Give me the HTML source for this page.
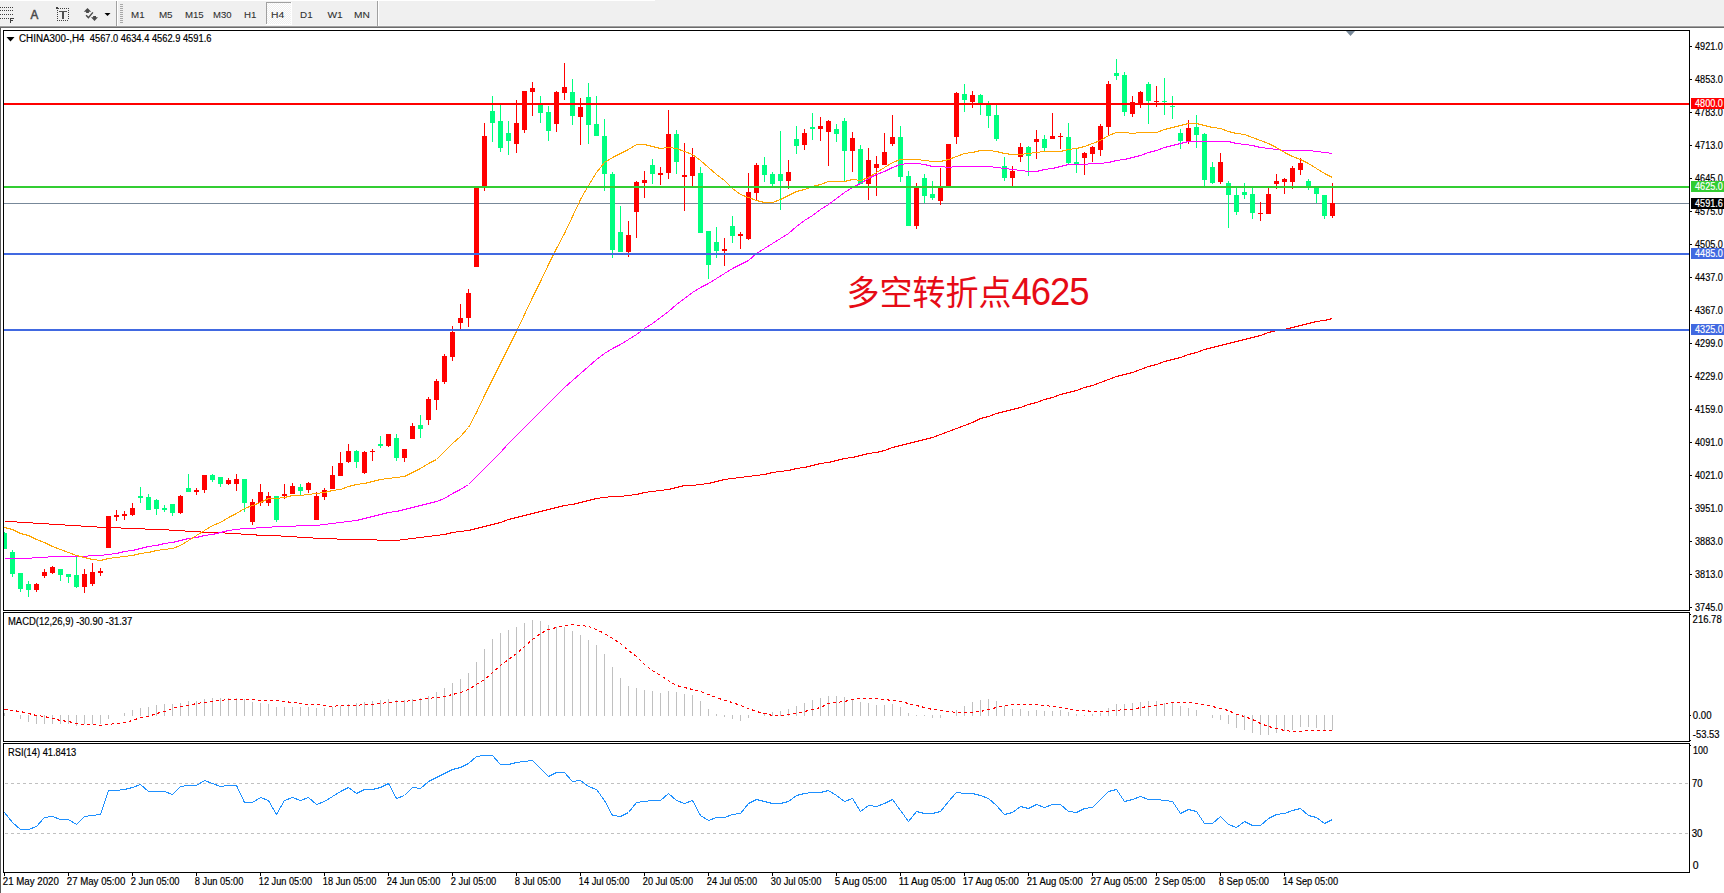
<!DOCTYPE html><html><head><meta charset="utf-8"><title>CHINA300-,H4</title>
<style>html,body{margin:0;padding:0;background:#fff;}body{width:1724px;height:893px;overflow:hidden;}svg{display:block;font-family:'Liberation Sans', Arial, sans-serif;}.cjk{font-family:"Liberation Sans","Noto Sans CJK SC","Microsoft YaHei",sans-serif;}</style></head><body>
<svg width="1724" height="893" viewBox="0 0 1724 893" shape-rendering="crispEdges">
<rect x="0" y="0" width="1724" height="893" fill="#ffffff"/>
<rect x="0" y="0" width="1724" height="26" fill="#f0f0f0"/>
<rect x="0" y="0" width="655" height="1" fill="#ffffff"/>
<rect x="0" y="25" width="1724" height="1" fill="#f4f4f4"/>
<rect x="0" y="26" width="1724" height="1" fill="#a0a0a0"/>
<rect x="0" y="27" width="1724" height="1" fill="#6b6b6b"/>
<rect x="0" y="28" width="1" height="865" fill="#5c5c5c"/>
<rect x="0" y="7" width="1" height="1" fill="#404040"/>
<rect x="2" y="7" width="1" height="1" fill="#404040"/>
<rect x="4" y="7" width="1" height="1" fill="#404040"/>
<rect x="6" y="7" width="1" height="1" fill="#404040"/>
<rect x="8" y="7" width="1" height="1" fill="#404040"/>
<rect x="10" y="7" width="1" height="1" fill="#404040"/>
<rect x="12" y="7" width="1" height="1" fill="#404040"/>
<rect x="0" y="10" width="1" height="1" fill="#404040"/>
<rect x="2" y="10" width="1" height="1" fill="#404040"/>
<rect x="4" y="10" width="1" height="1" fill="#404040"/>
<rect x="6" y="10" width="1" height="1" fill="#404040"/>
<rect x="8" y="10" width="1" height="1" fill="#404040"/>
<rect x="10" y="10" width="1" height="1" fill="#404040"/>
<rect x="12" y="10" width="1" height="1" fill="#404040"/>
<rect x="0" y="14" width="1" height="1" fill="#404040"/>
<rect x="2" y="14" width="1" height="1" fill="#404040"/>
<rect x="4" y="14" width="1" height="1" fill="#404040"/>
<rect x="6" y="14" width="1" height="1" fill="#404040"/>
<rect x="8" y="14" width="1" height="1" fill="#404040"/>
<rect x="10" y="14" width="1" height="1" fill="#404040"/>
<rect x="12" y="14" width="1" height="1" fill="#404040"/>
<rect x="0" y="18" width="1" height="1" fill="#404040"/>
<rect x="2" y="18" width="1" height="1" fill="#404040"/>
<rect x="4" y="18" width="1" height="1" fill="#404040"/>
<rect x="6" y="18" width="1" height="1" fill="#404040"/>
<rect x="8" y="18" width="1" height="1" fill="#404040"/>
<rect x="10" y="18" width="1" height="5" fill="#404040"/>
<rect x="10" y="18" width="4" height="1" fill="#404040"/>
<rect x="10" y="20" width="3" height="1" fill="#404040"/>
<text x="30.6" y="19" fill="#4a4a4a" stroke="#4a4a4a" stroke-width="0.5" font-size="12.4" textLength="7.8" lengthAdjust="spacingAndGlyphs">A</text>
<rect x="60" y="8" width="1" height="1" fill="#404040"/>
<rect x="62" y="8" width="1" height="1" fill="#404040"/>
<rect x="64" y="8" width="1" height="1" fill="#404040"/>
<rect x="66" y="8" width="1" height="1" fill="#404040"/>
<rect x="68" y="8" width="1" height="1" fill="#404040"/>
<rect x="57" y="20" width="1" height="1" fill="#404040"/>
<rect x="59" y="20" width="1" height="1" fill="#404040"/>
<rect x="61" y="20" width="1" height="1" fill="#404040"/>
<rect x="63" y="20" width="1" height="1" fill="#404040"/>
<rect x="65" y="20" width="1" height="1" fill="#404040"/>
<rect x="67" y="20" width="1" height="1" fill="#404040"/>
<rect x="57" y="10" width="1" height="1" fill="#404040"/>
<rect x="57" y="12" width="1" height="1" fill="#404040"/>
<rect x="57" y="14" width="1" height="1" fill="#404040"/>
<rect x="57" y="16" width="1" height="1" fill="#404040"/>
<rect x="57" y="18" width="1" height="1" fill="#404040"/>
<rect x="57" y="20" width="1" height="1" fill="#404040"/>
<rect x="68" y="8" width="1" height="1" fill="#404040"/>
<rect x="68" y="10" width="1" height="1" fill="#404040"/>
<rect x="68" y="12" width="1" height="1" fill="#404040"/>
<rect x="68" y="14" width="1" height="1" fill="#404040"/>
<rect x="68" y="16" width="1" height="1" fill="#404040"/>
<rect x="68" y="18" width="1" height="1" fill="#404040"/>
<rect x="56" y="7" width="2" height="2" fill="#404040"/>
<rect x="58" y="8" width="1" height="1" fill="#404040"/>
<rect x="59" y="11" width="8" height="1" fill="#505050"/>
<rect x="62" y="11" width="2" height="8" fill="#505050"/>
<g shape-rendering="auto" fill="#4a4a4a"><polygon points="83.8,11.7 87.5,7.9 91.2,11.7 88.9,11.7 88.9,13.1 86.1,13.1 86.1,11.7"/><polygon points="93.1,16 96,16 96,17.3 98,17.3 94.5,21.1 91,17.3 93.1,17.3"/><polyline points="86.1,15.3 88.4,17.6 92.9,12.4" fill="none" stroke="#4a4a4a" stroke-width="1.4"/></g>
<polygon points="104.5,13 110.5,13 107.5,16" fill="#000" shape-rendering="auto"/>
<rect x="116" y="1" width="1" height="25" fill="#a0a0a0"/>
<rect x="117" y="1" width="1" height="25" fill="#ffffff"/>
<rect x="120" y="4" width="3" height="1" fill="#a8a8a8"/>
<rect x="120" y="6" width="3" height="1" fill="#a8a8a8"/>
<rect x="120" y="8" width="3" height="1" fill="#a8a8a8"/>
<rect x="120" y="10" width="3" height="1" fill="#a8a8a8"/>
<rect x="120" y="12" width="3" height="1" fill="#a8a8a8"/>
<rect x="120" y="14" width="3" height="1" fill="#a8a8a8"/>
<rect x="120" y="16" width="3" height="1" fill="#a8a8a8"/>
<rect x="120" y="18" width="3" height="1" fill="#a8a8a8"/>
<rect x="120" y="20" width="3" height="1" fill="#a8a8a8"/>
<rect x="120" y="22" width="3" height="1" fill="#a8a8a8"/>
<defs><pattern id="chk" x="0" y="0" width="2" height="2" patternUnits="userSpaceOnUse"><rect width="2" height="2" fill="#f0f0f0"/><rect width="1" height="1" fill="#ffffff"/><rect x="1" y="1" width="1" height="1" fill="#ffffff"/></pattern></defs>
<rect x="266" y="2" width="25" height="22" fill="url(#chk)"/>
<rect x="266" y="2" width="25" height="1" fill="#a0a0a0"/>
<rect x="266" y="2" width="1" height="22" fill="#a0a0a0"/>
<rect x="291" y="2" width="1" height="23" fill="#ffffff"/>
<rect x="266" y="24" width="26" height="1" fill="#ffffff"/>
<text x="131.1" y="18" fill="#2e2e2e" font-size="9.9" stroke="#2e2e2e" stroke-width="0.08" textLength="13.5" lengthAdjust="spacingAndGlyphs">M1</text>
<text x="158.9" y="18" fill="#2e2e2e" font-size="9.9" stroke="#2e2e2e" stroke-width="0.08" textLength="13.7" lengthAdjust="spacingAndGlyphs">M5</text>
<text x="184.9" y="18" fill="#2e2e2e" font-size="9.9" stroke="#2e2e2e" stroke-width="0.08" textLength="18.8" lengthAdjust="spacingAndGlyphs">M15</text>
<text x="213.0" y="18" fill="#2e2e2e" font-size="9.9" stroke="#2e2e2e" stroke-width="0.08" textLength="18.5" lengthAdjust="spacingAndGlyphs">M30</text>
<text x="244.0" y="18" fill="#2e2e2e" font-size="9.9" stroke="#2e2e2e" stroke-width="0.08" textLength="12.4" lengthAdjust="spacingAndGlyphs">H1</text>
<text x="271.0" y="18" fill="#2e2e2e" font-size="9.9" stroke="#2e2e2e" stroke-width="0.08" textLength="13.2" lengthAdjust="spacingAndGlyphs">H4</text>
<text x="300.1" y="18" fill="#2e2e2e" font-size="9.9" stroke="#2e2e2e" stroke-width="0.08" textLength="12.5" lengthAdjust="spacingAndGlyphs">D1</text>
<text x="327.4" y="18" fill="#2e2e2e" font-size="9.9" stroke="#2e2e2e" stroke-width="0.08" textLength="15.3" lengthAdjust="spacingAndGlyphs">W1</text>
<text x="354.1" y="18" fill="#2e2e2e" font-size="9.9" stroke="#2e2e2e" stroke-width="0.08" textLength="15.8" lengthAdjust="spacingAndGlyphs">MN</text>
<rect x="377" y="1" width="1" height="25" fill="#a0a0a0"/>
<rect x="378" y="1" width="1" height="25" fill="#ffffff"/>
<rect x="3" y="30" width="1687" height="1" fill="#000"/>
<rect x="3" y="610" width="1687" height="1" fill="#000"/>
<rect x="3" y="30" width="1" height="581" fill="#000"/>
<rect x="1689" y="30" width="1" height="581" fill="#000"/>
<rect x="3" y="612" width="1687" height="1" fill="#000"/>
<rect x="3" y="741" width="1687" height="1" fill="#000"/>
<rect x="3" y="612" width="1" height="130" fill="#000"/>
<rect x="1689" y="612" width="1" height="130" fill="#000"/>
<rect x="3" y="743" width="1687" height="1" fill="#000"/>
<rect x="3" y="872" width="1687" height="1" fill="#000"/>
<rect x="3" y="743" width="1" height="130" fill="#000"/>
<rect x="1689" y="743" width="1" height="130" fill="#000"/>
<defs><clipPath id="cm"><rect x="4" y="31" width="1685" height="579"/></clipPath><clipPath id="cmacd"><rect x="4" y="613" width="1685" height="128"/></clipPath><clipPath id="crsi"><rect x="4" y="744" width="1685" height="128"/></clipPath></defs>
<g clip-path="url(#cm)">
<rect x="4" y="203" width="1685" height="1" fill="#778899"/>
<rect x="4" y="532" width="1" height="17" fill="#00ff7f"/>
<rect x="2" y="533" width="5" height="16" fill="#00ff7f"/>
<rect x="12" y="550" width="1" height="27" fill="#00ff7f"/>
<rect x="10" y="552" width="5" height="22" fill="#00ff7f"/>
<rect x="20" y="573" width="1" height="19" fill="#00ff7f"/>
<rect x="18" y="573" width="5" height="16" fill="#00ff7f"/>
<rect x="28" y="581" width="1" height="16" fill="#00ff7f"/>
<rect x="26" y="584" width="5" height="6" fill="#00ff7f"/>
<rect x="36" y="583" width="1" height="9" fill="#ff0000"/>
<rect x="34" y="584" width="5" height="6" fill="#ff0000"/>
<rect x="44" y="569" width="1" height="9" fill="#ff0000"/>
<rect x="42" y="572" width="5" height="4" fill="#ff0000"/>
<rect x="52" y="566" width="1" height="8" fill="#ff0000"/>
<rect x="50" y="567" width="5" height="6" fill="#ff0000"/>
<rect x="60" y="569" width="1" height="12" fill="#00ff7f"/>
<rect x="58" y="569" width="5" height="6" fill="#00ff7f"/>
<rect x="68" y="574" width="1" height="9" fill="#00ff7f"/>
<rect x="66" y="574" width="5" height="3" fill="#00ff7f"/>
<rect x="76" y="556" width="1" height="32" fill="#00ff7f"/>
<rect x="74" y="575" width="5" height="12" fill="#00ff7f"/>
<rect x="84" y="569" width="1" height="24" fill="#ff0000"/>
<rect x="82" y="574" width="5" height="13" fill="#ff0000"/>
<rect x="92" y="563" width="1" height="23" fill="#ff0000"/>
<rect x="90" y="572" width="5" height="12" fill="#ff0000"/>
<rect x="100" y="568" width="1" height="8" fill="#ff0000"/>
<rect x="98" y="571" width="5" height="2" fill="#ff0000"/>
<rect x="108" y="516" width="1" height="32" fill="#ff0000"/>
<rect x="106" y="516" width="5" height="32" fill="#ff0000"/>
<rect x="116" y="510" width="1" height="11" fill="#ff0000"/>
<rect x="114" y="515" width="5" height="2" fill="#ff0000"/>
<rect x="124" y="511" width="1" height="9" fill="#ff0000"/>
<rect x="122" y="514" width="5" height="2" fill="#ff0000"/>
<rect x="132" y="503" width="1" height="13" fill="#ff0000"/>
<rect x="130" y="508" width="5" height="7" fill="#ff0000"/>
<rect x="140" y="487" width="1" height="16" fill="#00ff7f"/>
<rect x="138" y="496" width="5" height="2" fill="#00ff7f"/>
<rect x="148" y="494" width="1" height="16" fill="#00ff7f"/>
<rect x="146" y="497" width="5" height="13" fill="#00ff7f"/>
<rect x="156" y="499" width="1" height="16" fill="#00ff7f"/>
<rect x="154" y="500" width="5" height="9" fill="#00ff7f"/>
<rect x="164" y="505" width="1" height="7" fill="#00ff7f"/>
<rect x="162" y="508" width="5" height="2" fill="#00ff7f"/>
<rect x="172" y="504" width="1" height="12" fill="#00ff7f"/>
<rect x="170" y="504" width="5" height="9" fill="#00ff7f"/>
<rect x="180" y="495" width="1" height="19" fill="#ff0000"/>
<rect x="178" y="496" width="5" height="17" fill="#ff0000"/>
<rect x="188" y="474" width="1" height="18" fill="#00ff7f"/>
<rect x="186" y="488" width="5" height="4" fill="#00ff7f"/>
<rect x="196" y="488" width="1" height="7" fill="#ff0000"/>
<rect x="194" y="490" width="5" height="2" fill="#ff0000"/>
<rect x="204" y="475" width="1" height="18" fill="#ff0000"/>
<rect x="202" y="475" width="5" height="15" fill="#ff0000"/>
<rect x="212" y="474" width="1" height="8" fill="#00ff7f"/>
<rect x="210" y="475" width="5" height="5" fill="#00ff7f"/>
<rect x="220" y="477" width="1" height="10" fill="#00ff7f"/>
<rect x="218" y="477" width="5" height="7" fill="#00ff7f"/>
<rect x="228" y="478" width="1" height="7" fill="#ff0000"/>
<rect x="226" y="480" width="5" height="4" fill="#ff0000"/>
<rect x="236" y="474" width="1" height="17" fill="#ff0000"/>
<rect x="234" y="479" width="5" height="5" fill="#ff0000"/>
<rect x="244" y="479" width="1" height="33" fill="#00ff7f"/>
<rect x="242" y="479" width="5" height="24" fill="#00ff7f"/>
<rect x="252" y="499" width="1" height="26" fill="#ff0000"/>
<rect x="250" y="502" width="5" height="20" fill="#ff0000"/>
<rect x="260" y="484" width="1" height="22" fill="#ff0000"/>
<rect x="258" y="492" width="5" height="11" fill="#ff0000"/>
<rect x="268" y="492" width="1" height="14" fill="#ff0000"/>
<rect x="266" y="496" width="5" height="7" fill="#ff0000"/>
<rect x="276" y="496" width="1" height="26" fill="#00ff7f"/>
<rect x="274" y="496" width="5" height="24" fill="#00ff7f"/>
<rect x="284" y="484" width="1" height="15" fill="#ff0000"/>
<rect x="282" y="494" width="5" height="2" fill="#ff0000"/>
<rect x="292" y="483" width="1" height="11" fill="#ff0000"/>
<rect x="290" y="486" width="5" height="8" fill="#ff0000"/>
<rect x="300" y="484" width="1" height="11" fill="#00ff7f"/>
<rect x="298" y="487" width="5" height="4" fill="#00ff7f"/>
<rect x="308" y="482" width="1" height="11" fill="#ff0000"/>
<rect x="306" y="483" width="5" height="7" fill="#ff0000"/>
<rect x="316" y="492" width="1" height="28" fill="#ff0000"/>
<rect x="314" y="496" width="5" height="24" fill="#ff0000"/>
<rect x="324" y="488" width="1" height="12" fill="#ff0000"/>
<rect x="322" y="490" width="5" height="7" fill="#ff0000"/>
<rect x="332" y="466" width="1" height="23" fill="#ff0000"/>
<rect x="330" y="475" width="5" height="14" fill="#ff0000"/>
<rect x="340" y="452" width="1" height="24" fill="#ff0000"/>
<rect x="338" y="463" width="5" height="13" fill="#ff0000"/>
<rect x="348" y="444" width="1" height="19" fill="#ff0000"/>
<rect x="346" y="451" width="5" height="11" fill="#ff0000"/>
<rect x="356" y="450" width="1" height="18" fill="#00ff7f"/>
<rect x="354" y="451" width="5" height="11" fill="#00ff7f"/>
<rect x="364" y="451" width="1" height="23" fill="#ff0000"/>
<rect x="362" y="452" width="5" height="21" fill="#ff0000"/>
<rect x="372" y="449" width="1" height="12" fill="#ff0000"/>
<rect x="370" y="451" width="5" height="1" fill="#ff0000"/>
<rect x="380" y="436" width="1" height="12" fill="#00ff7f"/>
<rect x="378" y="444" width="5" height="2" fill="#00ff7f"/>
<rect x="388" y="434" width="1" height="13" fill="#ff0000"/>
<rect x="386" y="434" width="5" height="12" fill="#ff0000"/>
<rect x="396" y="434" width="1" height="27" fill="#00ff7f"/>
<rect x="394" y="438" width="5" height="20" fill="#00ff7f"/>
<rect x="404" y="449" width="1" height="13" fill="#ff0000"/>
<rect x="402" y="449" width="5" height="9" fill="#ff0000"/>
<rect x="412" y="423" width="1" height="16" fill="#ff0000"/>
<rect x="410" y="426" width="5" height="13" fill="#ff0000"/>
<rect x="420" y="415" width="1" height="23" fill="#00ff7f"/>
<rect x="418" y="425" width="5" height="4" fill="#00ff7f"/>
<rect x="428" y="397" width="1" height="28" fill="#ff0000"/>
<rect x="426" y="399" width="5" height="21" fill="#ff0000"/>
<rect x="436" y="379" width="1" height="31" fill="#ff0000"/>
<rect x="434" y="381" width="5" height="19" fill="#ff0000"/>
<rect x="444" y="354" width="1" height="30" fill="#ff0000"/>
<rect x="442" y="356" width="5" height="26" fill="#ff0000"/>
<rect x="452" y="326" width="1" height="35" fill="#ff0000"/>
<rect x="450" y="332" width="5" height="25" fill="#ff0000"/>
<rect x="460" y="304" width="1" height="25" fill="#ff0000"/>
<rect x="458" y="318" width="5" height="5" fill="#ff0000"/>
<rect x="468" y="289" width="1" height="38" fill="#ff0000"/>
<rect x="466" y="293" width="5" height="25" fill="#ff0000"/>
<rect x="476" y="187" width="1" height="80" fill="#ff0000"/>
<rect x="474" y="187" width="5" height="80" fill="#ff0000"/>
<rect x="484" y="123" width="1" height="68" fill="#ff0000"/>
<rect x="482" y="136" width="5" height="50" fill="#ff0000"/>
<rect x="492" y="96" width="1" height="46" fill="#00ff7f"/>
<rect x="490" y="111" width="5" height="12" fill="#00ff7f"/>
<rect x="500" y="105" width="1" height="47" fill="#00ff7f"/>
<rect x="498" y="121" width="5" height="27" fill="#00ff7f"/>
<rect x="508" y="121" width="1" height="34" fill="#00ff7f"/>
<rect x="506" y="133" width="5" height="8" fill="#00ff7f"/>
<rect x="516" y="100" width="1" height="53" fill="#ff0000"/>
<rect x="514" y="123" width="5" height="21" fill="#ff0000"/>
<rect x="524" y="91" width="1" height="42" fill="#ff0000"/>
<rect x="522" y="91" width="5" height="39" fill="#ff0000"/>
<rect x="532" y="82" width="1" height="34" fill="#ff0000"/>
<rect x="530" y="88" width="5" height="4" fill="#ff0000"/>
<rect x="540" y="96" width="1" height="27" fill="#00ff7f"/>
<rect x="538" y="105" width="5" height="8" fill="#00ff7f"/>
<rect x="548" y="106" width="1" height="35" fill="#00ff7f"/>
<rect x="546" y="112" width="5" height="19" fill="#00ff7f"/>
<rect x="556" y="91" width="1" height="41" fill="#ff0000"/>
<rect x="554" y="92" width="5" height="32" fill="#ff0000"/>
<rect x="564" y="63" width="1" height="37" fill="#ff0000"/>
<rect x="562" y="87" width="5" height="6" fill="#ff0000"/>
<rect x="572" y="79" width="1" height="46" fill="#00ff7f"/>
<rect x="570" y="92" width="5" height="24" fill="#00ff7f"/>
<rect x="580" y="98" width="1" height="47" fill="#ff0000"/>
<rect x="578" y="107" width="5" height="10" fill="#ff0000"/>
<rect x="588" y="83" width="1" height="61" fill="#00ff7f"/>
<rect x="586" y="97" width="5" height="28" fill="#00ff7f"/>
<rect x="596" y="96" width="1" height="40" fill="#00ff7f"/>
<rect x="594" y="124" width="5" height="12" fill="#00ff7f"/>
<rect x="604" y="119" width="1" height="72" fill="#00ff7f"/>
<rect x="602" y="136" width="5" height="38" fill="#00ff7f"/>
<rect x="612" y="172" width="1" height="86" fill="#00ff7f"/>
<rect x="610" y="174" width="5" height="76" fill="#00ff7f"/>
<rect x="620" y="206" width="1" height="46" fill="#00ff7f"/>
<rect x="618" y="232" width="5" height="20" fill="#00ff7f"/>
<rect x="628" y="221" width="1" height="36" fill="#ff0000"/>
<rect x="626" y="235" width="5" height="17" fill="#ff0000"/>
<rect x="636" y="181" width="1" height="57" fill="#ff0000"/>
<rect x="634" y="182" width="5" height="30" fill="#ff0000"/>
<rect x="644" y="171" width="1" height="27" fill="#ff0000"/>
<rect x="642" y="180" width="5" height="3" fill="#ff0000"/>
<rect x="652" y="159" width="1" height="25" fill="#00ff7f"/>
<rect x="650" y="165" width="5" height="9" fill="#00ff7f"/>
<rect x="660" y="167" width="1" height="18" fill="#ff0000"/>
<rect x="658" y="173" width="5" height="2" fill="#ff0000"/>
<rect x="668" y="110" width="1" height="69" fill="#ff0000"/>
<rect x="666" y="134" width="5" height="39" fill="#ff0000"/>
<rect x="676" y="130" width="1" height="44" fill="#00ff7f"/>
<rect x="674" y="134" width="5" height="28" fill="#00ff7f"/>
<rect x="684" y="143" width="1" height="68" fill="#ff0000"/>
<rect x="682" y="175" width="5" height="2" fill="#ff0000"/>
<rect x="692" y="148" width="1" height="38" fill="#ff0000"/>
<rect x="690" y="157" width="5" height="19" fill="#ff0000"/>
<rect x="700" y="167" width="1" height="66" fill="#00ff7f"/>
<rect x="698" y="173" width="5" height="60" fill="#00ff7f"/>
<rect x="708" y="231" width="1" height="48" fill="#00ff7f"/>
<rect x="706" y="231" width="5" height="34" fill="#00ff7f"/>
<rect x="716" y="227" width="1" height="31" fill="#00ff7f"/>
<rect x="714" y="242" width="5" height="9" fill="#00ff7f"/>
<rect x="724" y="238" width="1" height="28" fill="#ff0000"/>
<rect x="722" y="249" width="5" height="2" fill="#ff0000"/>
<rect x="732" y="216" width="1" height="27" fill="#00ff7f"/>
<rect x="730" y="226" width="5" height="10" fill="#00ff7f"/>
<rect x="740" y="232" width="1" height="17" fill="#ff0000"/>
<rect x="738" y="234" width="5" height="2" fill="#ff0000"/>
<rect x="748" y="173" width="1" height="67" fill="#ff0000"/>
<rect x="746" y="192" width="5" height="47" fill="#ff0000"/>
<rect x="756" y="163" width="1" height="37" fill="#ff0000"/>
<rect x="754" y="165" width="5" height="28" fill="#ff0000"/>
<rect x="764" y="157" width="1" height="25" fill="#00ff7f"/>
<rect x="762" y="165" width="5" height="10" fill="#00ff7f"/>
<rect x="772" y="172" width="1" height="14" fill="#00ff7f"/>
<rect x="770" y="174" width="5" height="10" fill="#00ff7f"/>
<rect x="780" y="131" width="1" height="79" fill="#00ff7f"/>
<rect x="778" y="174" width="5" height="7" fill="#00ff7f"/>
<rect x="788" y="160" width="1" height="29" fill="#ff0000"/>
<rect x="786" y="172" width="5" height="9" fill="#ff0000"/>
<rect x="796" y="126" width="1" height="28" fill="#00ff7f"/>
<rect x="794" y="139" width="5" height="7" fill="#00ff7f"/>
<rect x="804" y="129" width="1" height="21" fill="#ff0000"/>
<rect x="802" y="133" width="5" height="12" fill="#ff0000"/>
<rect x="812" y="113" width="1" height="27" fill="#00ff7f"/>
<rect x="810" y="127" width="5" height="2" fill="#00ff7f"/>
<rect x="820" y="117" width="1" height="24" fill="#ff0000"/>
<rect x="818" y="126" width="5" height="3" fill="#ff0000"/>
<rect x="828" y="120" width="1" height="46" fill="#ff0000"/>
<rect x="826" y="121" width="5" height="11" fill="#ff0000"/>
<rect x="836" y="124" width="1" height="18" fill="#00ff7f"/>
<rect x="834" y="129" width="5" height="5" fill="#00ff7f"/>
<rect x="844" y="118" width="1" height="64" fill="#00ff7f"/>
<rect x="842" y="121" width="5" height="30" fill="#00ff7f"/>
<rect x="852" y="132" width="1" height="40" fill="#ff0000"/>
<rect x="850" y="138" width="5" height="13" fill="#ff0000"/>
<rect x="860" y="145" width="1" height="39" fill="#00ff7f"/>
<rect x="858" y="149" width="5" height="35" fill="#00ff7f"/>
<rect x="868" y="148" width="1" height="52" fill="#ff0000"/>
<rect x="866" y="160" width="5" height="24" fill="#ff0000"/>
<rect x="876" y="156" width="1" height="40" fill="#ff0000"/>
<rect x="874" y="164" width="5" height="4" fill="#ff0000"/>
<rect x="884" y="133" width="1" height="32" fill="#ff0000"/>
<rect x="882" y="152" width="5" height="13" fill="#ff0000"/>
<rect x="892" y="115" width="1" height="31" fill="#ff0000"/>
<rect x="890" y="137" width="5" height="7" fill="#ff0000"/>
<rect x="900" y="126" width="1" height="56" fill="#00ff7f"/>
<rect x="898" y="137" width="5" height="40" fill="#00ff7f"/>
<rect x="908" y="171" width="1" height="55" fill="#00ff7f"/>
<rect x="906" y="176" width="5" height="50" fill="#00ff7f"/>
<rect x="916" y="183" width="1" height="46" fill="#ff0000"/>
<rect x="914" y="188" width="5" height="38" fill="#ff0000"/>
<rect x="924" y="174" width="1" height="29" fill="#00ff7f"/>
<rect x="922" y="178" width="5" height="18" fill="#00ff7f"/>
<rect x="932" y="181" width="1" height="19" fill="#00ff7f"/>
<rect x="930" y="194" width="5" height="4" fill="#00ff7f"/>
<rect x="940" y="168" width="1" height="37" fill="#ff0000"/>
<rect x="938" y="188" width="5" height="13" fill="#ff0000"/>
<rect x="948" y="144" width="1" height="42" fill="#ff0000"/>
<rect x="946" y="144" width="5" height="42" fill="#ff0000"/>
<rect x="956" y="92" width="1" height="52" fill="#ff0000"/>
<rect x="954" y="93" width="5" height="44" fill="#ff0000"/>
<rect x="964" y="84" width="1" height="28" fill="#00ff7f"/>
<rect x="962" y="94" width="5" height="6" fill="#00ff7f"/>
<rect x="972" y="91" width="1" height="17" fill="#ff0000"/>
<rect x="970" y="95" width="5" height="7" fill="#ff0000"/>
<rect x="980" y="94" width="1" height="21" fill="#00ff7f"/>
<rect x="978" y="95" width="5" height="8" fill="#00ff7f"/>
<rect x="988" y="101" width="1" height="27" fill="#00ff7f"/>
<rect x="986" y="105" width="5" height="11" fill="#00ff7f"/>
<rect x="996" y="105" width="1" height="36" fill="#00ff7f"/>
<rect x="994" y="115" width="5" height="24" fill="#00ff7f"/>
<rect x="1004" y="157" width="1" height="24" fill="#00ff7f"/>
<rect x="1002" y="166" width="5" height="12" fill="#00ff7f"/>
<rect x="1012" y="166" width="1" height="20" fill="#ff0000"/>
<rect x="1010" y="171" width="5" height="7" fill="#ff0000"/>
<rect x="1020" y="143" width="1" height="19" fill="#ff0000"/>
<rect x="1018" y="147" width="5" height="10" fill="#ff0000"/>
<rect x="1028" y="146" width="1" height="30" fill="#00ff7f"/>
<rect x="1026" y="147" width="5" height="9" fill="#00ff7f"/>
<rect x="1036" y="130" width="1" height="29" fill="#ff0000"/>
<rect x="1034" y="139" width="5" height="3" fill="#ff0000"/>
<rect x="1044" y="135" width="1" height="16" fill="#00ff7f"/>
<rect x="1042" y="139" width="5" height="9" fill="#00ff7f"/>
<rect x="1052" y="113" width="1" height="26" fill="#ff0000"/>
<rect x="1050" y="136" width="5" height="3" fill="#ff0000"/>
<rect x="1060" y="133" width="1" height="16" fill="#ff0000"/>
<rect x="1058" y="136" width="5" height="1" fill="#ff0000"/>
<rect x="1068" y="123" width="1" height="41" fill="#00ff7f"/>
<rect x="1066" y="137" width="5" height="26" fill="#00ff7f"/>
<rect x="1076" y="148" width="1" height="25" fill="#00ff7f"/>
<rect x="1074" y="162" width="5" height="2" fill="#00ff7f"/>
<rect x="1084" y="152" width="1" height="23" fill="#ff0000"/>
<rect x="1082" y="153" width="5" height="5" fill="#ff0000"/>
<rect x="1092" y="146" width="1" height="16" fill="#ff0000"/>
<rect x="1090" y="147" width="5" height="7" fill="#ff0000"/>
<rect x="1100" y="124" width="1" height="32" fill="#ff0000"/>
<rect x="1098" y="126" width="5" height="24" fill="#ff0000"/>
<rect x="1108" y="81" width="1" height="54" fill="#ff0000"/>
<rect x="1106" y="84" width="5" height="43" fill="#ff0000"/>
<rect x="1116" y="59" width="1" height="21" fill="#00ff7f"/>
<rect x="1114" y="73" width="5" height="3" fill="#00ff7f"/>
<rect x="1124" y="72" width="1" height="44" fill="#00ff7f"/>
<rect x="1122" y="75" width="5" height="37" fill="#00ff7f"/>
<rect x="1132" y="96" width="1" height="21" fill="#ff0000"/>
<rect x="1130" y="102" width="5" height="12" fill="#ff0000"/>
<rect x="1140" y="91" width="1" height="17" fill="#ff0000"/>
<rect x="1138" y="92" width="5" height="12" fill="#ff0000"/>
<rect x="1148" y="82" width="1" height="42" fill="#00ff7f"/>
<rect x="1146" y="84" width="5" height="17" fill="#00ff7f"/>
<rect x="1156" y="86" width="1" height="21" fill="#ff0000"/>
<rect x="1154" y="101" width="5" height="1" fill="#ff0000"/>
<rect x="1164" y="78" width="1" height="37" fill="#00ff7f"/>
<rect x="1162" y="101" width="5" height="1" fill="#00ff7f"/>
<rect x="1172" y="96" width="1" height="23" fill="#00ff7f"/>
<rect x="1170" y="106" width="5" height="1" fill="#00ff7f"/>
<rect x="1180" y="129" width="1" height="20" fill="#00ff7f"/>
<rect x="1178" y="133" width="5" height="8" fill="#00ff7f"/>
<rect x="1188" y="120" width="1" height="24" fill="#ff0000"/>
<rect x="1186" y="128" width="5" height="13" fill="#ff0000"/>
<rect x="1196" y="115" width="1" height="33" fill="#00ff7f"/>
<rect x="1194" y="127" width="5" height="8" fill="#00ff7f"/>
<rect x="1204" y="133" width="1" height="53" fill="#00ff7f"/>
<rect x="1202" y="134" width="5" height="46" fill="#00ff7f"/>
<rect x="1212" y="162" width="1" height="22" fill="#00ff7f"/>
<rect x="1210" y="167" width="5" height="16" fill="#00ff7f"/>
<rect x="1220" y="153" width="1" height="31" fill="#ff0000"/>
<rect x="1218" y="162" width="5" height="20" fill="#ff0000"/>
<rect x="1228" y="181" width="1" height="47" fill="#00ff7f"/>
<rect x="1226" y="183" width="5" height="12" fill="#00ff7f"/>
<rect x="1236" y="188" width="1" height="27" fill="#00ff7f"/>
<rect x="1234" y="195" width="5" height="17" fill="#00ff7f"/>
<rect x="1244" y="183" width="1" height="16" fill="#00ff7f"/>
<rect x="1242" y="192" width="5" height="3" fill="#00ff7f"/>
<rect x="1252" y="188" width="1" height="31" fill="#00ff7f"/>
<rect x="1250" y="194" width="5" height="19" fill="#00ff7f"/>
<rect x="1260" y="202" width="1" height="19" fill="#ff0000"/>
<rect x="1258" y="213" width="5" height="1" fill="#ff0000"/>
<rect x="1268" y="188" width="1" height="26" fill="#ff0000"/>
<rect x="1266" y="194" width="5" height="20" fill="#ff0000"/>
<rect x="1276" y="174" width="1" height="15" fill="#ff0000"/>
<rect x="1274" y="181" width="5" height="3" fill="#ff0000"/>
<rect x="1284" y="178" width="1" height="16" fill="#ff0000"/>
<rect x="1282" y="179" width="5" height="3" fill="#ff0000"/>
<rect x="1292" y="166" width="1" height="23" fill="#ff0000"/>
<rect x="1290" y="168" width="5" height="14" fill="#ff0000"/>
<rect x="1300" y="158" width="1" height="17" fill="#ff0000"/>
<rect x="1298" y="163" width="5" height="7" fill="#ff0000"/>
<rect x="1308" y="179" width="1" height="11" fill="#00ff7f"/>
<rect x="1306" y="181" width="5" height="5" fill="#00ff7f"/>
<rect x="1316" y="187" width="1" height="16" fill="#00ff7f"/>
<rect x="1314" y="188" width="5" height="6" fill="#00ff7f"/>
<rect x="1324" y="195" width="1" height="24" fill="#00ff7f"/>
<rect x="1322" y="195" width="5" height="21" fill="#00ff7f"/>
<rect x="1332" y="183" width="1" height="35" fill="#ff0000"/>
<rect x="1330" y="203" width="5" height="13" fill="#ff0000"/>
<polyline points="4.5,521.5 12.5,521.5 20.5,522.5 28.5,522.5 36.5,523.5 44.5,523.5 52.5,524.5 60.5,524.5 68.5,525.5 76.5,525.5 84.5,526.5 92.5,526.5 100.5,527.5 108.5,527.5 116.5,527.5 124.5,528.5 132.5,528.5 140.5,528.5 148.5,529.5 156.5,529.5 164.5,529.5 172.5,530.5 180.5,530.5 188.5,531.5 196.5,531.5 204.5,532.5 212.5,532.5 220.5,532.5 228.5,533.5 236.5,533.5 244.5,534.5 252.5,534.5 260.5,535.5 268.5,535.5 276.5,535.5 284.5,536.5 292.5,536.5 300.5,537.5 308.5,537.5 316.5,538.5 324.5,538.5 332.5,538.5 340.5,539.5 348.5,539.5 356.5,539.5 364.5,539.5 372.5,539.5 380.5,540.5 388.5,540.5 396.5,540.5 404.5,539.5 412.5,538.5 420.5,537.5 428.5,536.5 436.5,535.5 444.5,534.5 452.5,532.5 460.5,531.5 468.5,530.5 476.5,528.5 484.5,526.5 492.5,524.5 500.5,522.5 508.5,519.5 516.5,517.5 524.5,515.5 532.5,513.5 540.5,511.5 548.5,509.5 556.5,507.5 564.5,505.5 572.5,504.5 580.5,502.5 588.5,500.5 596.5,498.5 604.5,497.5 612.5,496.5 620.5,496.5 628.5,495.5 636.5,494.5 644.5,492.5 652.5,491.5 660.5,490.5 668.5,489.5 676.5,487.5 684.5,485.5 692.5,485.5 700.5,484.5 708.5,483.5 716.5,481.5 724.5,479.5 732.5,478.5 740.5,477.5 748.5,476.5 756.5,475.5 764.5,474.5 772.5,472.5 780.5,471.5 788.5,470.5 796.5,468.5 804.5,467.5 812.5,465.5 820.5,463.5 828.5,462.5 836.5,460.5 844.5,458.5 852.5,457.5 860.5,455.5 868.5,453.5 876.5,452.5 884.5,450.5 892.5,447.5 900.5,445.5 908.5,443.5 916.5,441.5 924.5,439.5 932.5,437.5 940.5,434.5 948.5,431.5 956.5,428.5 964.5,425.5 972.5,422.5 980.5,418.5 988.5,416.5 996.5,413.5 1004.5,411.5 1012.5,409.5 1020.5,407.5 1028.5,404.5 1036.5,402.5 1044.5,399.5 1052.5,397.5 1060.5,394.5 1068.5,392.5 1076.5,390.5 1084.5,387.5 1092.5,385.5 1100.5,382.5 1108.5,379.5 1116.5,376.5 1124.5,374.5 1132.5,372.5 1140.5,369.5 1148.5,366.5 1156.5,364.5 1164.5,361.5 1172.5,359.5 1180.5,357.5 1188.5,354.5 1196.5,352.5 1204.5,349.5 1212.5,347.5 1220.5,345.5 1228.5,343.5 1236.5,341.5 1244.5,339.5 1252.5,337.5 1260.5,335.5 1268.5,332.5 1276.5,330.5 1284.5,329.5 1292.5,327.5 1300.5,325.5 1308.5,323.5 1316.5,321.5 1324.5,320.5 1332.5,318.5" fill="none" stroke="#ff0000" stroke-width="1"/>
<polyline points="4.5,558.5 12.5,558.5 20.5,558.5 28.5,558.5 36.5,557.5 44.5,557.5 52.5,556.5 60.5,556.5 68.5,556.5 76.5,556.5 84.5,556.5 92.5,555.5 100.5,555.5 108.5,554.5 116.5,553.5 124.5,551.5 132.5,550.5 140.5,548.5 148.5,546.5 156.5,545.5 164.5,543.5 172.5,542.5 180.5,540.5 188.5,538.5 196.5,537.5 204.5,535.5 212.5,534.5 220.5,532.5 228.5,530.5 236.5,529.5 244.5,528.5 252.5,528.5 260.5,527.5 268.5,527.5 276.5,526.5 284.5,526.5 292.5,526.5 300.5,525.5 308.5,525.5 316.5,525.5 324.5,524.5 332.5,523.5 340.5,522.5 348.5,521.5 356.5,520.5 364.5,518.5 372.5,516.5 380.5,514.5 388.5,512.5 396.5,511.5 404.5,509.5 412.5,507.5 420.5,505.5 428.5,503.5 436.5,501.5 444.5,498.5 452.5,493.5 460.5,489.5 468.5,484.5 476.5,476.5 484.5,468.5 492.5,460.5 500.5,452.5 508.5,443.5 516.5,435.5 524.5,427.5 532.5,419.5 540.5,411.5 548.5,403.5 556.5,395.5 564.5,387.5 572.5,380.5 580.5,373.5 588.5,366.5 596.5,359.5 604.5,353.5 612.5,348.5 620.5,344.5 628.5,339.5 636.5,334.5 644.5,328.5 652.5,323.5 660.5,317.5 668.5,311.5 676.5,304.5 684.5,298.5 692.5,292.5 700.5,287.5 708.5,283.5 716.5,278.5 724.5,273.5 732.5,268.5 740.5,264.5 748.5,260.5 756.5,253.5 764.5,248.5 772.5,243.5 780.5,238.5 788.5,233.5 796.5,226.5 804.5,220.5 812.5,215.5 820.5,209.5 828.5,204.5 836.5,198.5 844.5,192.5 852.5,187.5 860.5,183.5 868.5,178.5 876.5,174.5 884.5,171.5 892.5,167.5 900.5,164.5 908.5,163.5 916.5,163.5 924.5,164.5 932.5,166.5 940.5,166.5 948.5,167.5 956.5,166.5 964.5,166.5 972.5,166.5 980.5,166.5 988.5,166.5 996.5,167.5 1004.5,168.5 1012.5,169.5 1020.5,170.5 1028.5,171.5 1036.5,171.5 1044.5,169.5 1052.5,168.5 1060.5,166.5 1068.5,164.5 1076.5,164.5 1084.5,164.5 1092.5,163.5 1100.5,163.5 1108.5,162.5 1116.5,160.5 1124.5,159.5 1132.5,157.5 1140.5,155.5 1148.5,152.5 1156.5,150.5 1164.5,147.5 1172.5,145.5 1180.5,143.5 1188.5,141.5 1196.5,141.5 1204.5,141.5 1212.5,141.5 1220.5,141.5 1228.5,141.5 1236.5,143.5 1244.5,144.5 1252.5,145.5 1260.5,147.5 1268.5,148.5 1276.5,149.5 1284.5,150.5 1292.5,150.5 1300.5,150.5 1308.5,150.5 1316.5,151.5 1324.5,152.5 1332.5,153.5" fill="none" stroke="#ff00ff" stroke-width="1"/>
<polyline points="4.5,527.5 12.5,529.5 20.5,533.5 28.5,535.5 36.5,539.5 44.5,542.5 52.5,546.5 60.5,549.5 68.5,552.5 76.5,555.5 84.5,557.5 92.5,559.5 100.5,560.5 108.5,558.5 116.5,557.5 124.5,556.5 132.5,555.5 140.5,553.5 148.5,552.5 156.5,550.5 164.5,549.5 172.5,548.5 180.5,545.5 188.5,540.5 196.5,535.5 204.5,530.5 212.5,525.5 220.5,522.5 228.5,517.5 236.5,513.5 244.5,508.5 252.5,505.5 260.5,502.5 268.5,498.5 276.5,498.5 284.5,497.5 292.5,495.5 300.5,495.5 308.5,494.5 316.5,493.5 324.5,492.5 332.5,490.5 340.5,489.5 348.5,486.5 356.5,484.5 364.5,483.5 372.5,481.5 380.5,479.5 388.5,478.5 396.5,477.5 404.5,476.5 412.5,472.5 420.5,468.5 428.5,463.5 436.5,459.5 444.5,451.5 452.5,443.5 460.5,436.5 468.5,427.5 476.5,412.5 484.5,395.5 492.5,379.5 500.5,363.5 508.5,347.5 516.5,331.5 524.5,314.5 532.5,297.5 540.5,281.5 548.5,264.5 556.5,248.5 564.5,233.5 572.5,216.5 580.5,199.5 588.5,185.5 596.5,172.5 604.5,162.5 612.5,157.5 620.5,153.5 628.5,149.5 636.5,144.5 644.5,144.5 652.5,146.5 660.5,148.5 668.5,147.5 676.5,148.5 684.5,151.5 692.5,154.5 700.5,160.5 708.5,167.5 716.5,174.5 724.5,180.5 732.5,188.5 740.5,194.5 748.5,197.5 756.5,200.5 764.5,202.5 772.5,202.5 780.5,199.5 788.5,195.5 796.5,191.5 804.5,189.5 812.5,186.5 820.5,184.5 828.5,181.5 836.5,181.5 844.5,181.5 852.5,179.5 860.5,180.5 868.5,177.5 876.5,172.5 884.5,167.5 892.5,162.5 900.5,159.5 908.5,159.5 916.5,159.5 924.5,160.5 932.5,161.5 940.5,161.5 948.5,159.5 956.5,156.5 964.5,153.5 972.5,152.5 980.5,150.5 988.5,150.5 996.5,151.5 1004.5,153.5 1012.5,154.5 1020.5,154.5 1028.5,153.5 1036.5,152.5 1044.5,151.5 1052.5,151.5 1060.5,151.5 1068.5,149.5 1076.5,148.5 1084.5,146.5 1092.5,143.5 1100.5,140.5 1108.5,135.5 1116.5,132.5 1124.5,132.5 1132.5,133.5 1140.5,132.5 1148.5,132.5 1156.5,132.5 1164.5,129.5 1172.5,127.5 1180.5,125.5 1188.5,123.5 1196.5,123.5 1204.5,125.5 1212.5,127.5 1220.5,128.5 1228.5,131.5 1236.5,133.5 1244.5,134.5 1252.5,137.5 1260.5,140.5 1268.5,143.5 1276.5,147.5 1284.5,152.5 1292.5,156.5 1300.5,159.5 1308.5,163.5 1316.5,168.5 1324.5,173.5 1332.5,177.5" fill="none" stroke="#ffa500" stroke-width="1"/>
<rect x="4" y="103" width="1685" height="2" fill="#ff0000"/>
<rect x="4" y="186" width="1685" height="2" fill="#32cd32"/>
<rect x="4" y="253" width="1685" height="2" fill="#4169e1"/>
<rect x="4" y="329" width="1685" height="2" fill="#4169e1"/>
<text class="cjk" x="846.4" y="305" fill="#e60b16" font-size="33" transform="translate(0,305) scale(1,1.045) translate(0,-305)">多空转折点<tspan font-size="36.5" letter-spacing="-1">4625</tspan></text>
</g>
<polygon points="6.5,37 14.5,37 10.5,41.5" fill="#000" shape-rendering="auto"/>
<text x="19" y="42" fill="#000" font-size="10" stroke="#000" stroke-width="0.18" textLength="65.6" lengthAdjust="spacingAndGlyphs">CHINA300-,H4</text>
<text x="89.8" y="42" fill="#000" font-size="10" stroke="#000" stroke-width="0.18" textLength="121.6" lengthAdjust="spacingAndGlyphs">4567.0 4634.4 4562.9 4591.6</text>
<polygon points="1346,31 1355,31 1350.5,36" fill="#778899" shape-rendering="auto"/>
<rect x="1690" y="46" width="2" height="1" fill="#000"/>
<text x="1695" y="50" fill="#000" font-size="10" stroke="#000" stroke-width="0.18" textLength="27.9" lengthAdjust="spacingAndGlyphs">4921.0</text>
<rect x="1690" y="79" width="2" height="1" fill="#000"/>
<text x="1695" y="83" fill="#000" font-size="10" stroke="#000" stroke-width="0.18" textLength="27.9" lengthAdjust="spacingAndGlyphs">4853.0</text>
<rect x="1690" y="112" width="2" height="1" fill="#000"/>
<text x="1695" y="116" fill="#000" font-size="10" stroke="#000" stroke-width="0.18" textLength="27.9" lengthAdjust="spacingAndGlyphs">4783.0</text>
<rect x="1690" y="145" width="2" height="1" fill="#000"/>
<text x="1695" y="149" fill="#000" font-size="10" stroke="#000" stroke-width="0.18" textLength="27.9" lengthAdjust="spacingAndGlyphs">4713.0</text>
<rect x="1690" y="178" width="2" height="1" fill="#000"/>
<text x="1695" y="182" fill="#000" font-size="10" stroke="#000" stroke-width="0.18" textLength="27.9" lengthAdjust="spacingAndGlyphs">4645.0</text>
<rect x="1690" y="211" width="2" height="1" fill="#000"/>
<text x="1695" y="215" fill="#000" font-size="10" stroke="#000" stroke-width="0.18" textLength="27.9" lengthAdjust="spacingAndGlyphs">4575.0</text>
<rect x="1690" y="244" width="2" height="1" fill="#000"/>
<text x="1695" y="248" fill="#000" font-size="10" stroke="#000" stroke-width="0.18" textLength="27.9" lengthAdjust="spacingAndGlyphs">4505.0</text>
<rect x="1690" y="277" width="2" height="1" fill="#000"/>
<text x="1695" y="281" fill="#000" font-size="10" stroke="#000" stroke-width="0.18" textLength="27.9" lengthAdjust="spacingAndGlyphs">4437.0</text>
<rect x="1690" y="310" width="2" height="1" fill="#000"/>
<text x="1695" y="314" fill="#000" font-size="10" stroke="#000" stroke-width="0.18" textLength="27.9" lengthAdjust="spacingAndGlyphs">4367.0</text>
<rect x="1690" y="343" width="2" height="1" fill="#000"/>
<text x="1695" y="347" fill="#000" font-size="10" stroke="#000" stroke-width="0.18" textLength="27.9" lengthAdjust="spacingAndGlyphs">4299.0</text>
<rect x="1690" y="376" width="2" height="1" fill="#000"/>
<text x="1695" y="380" fill="#000" font-size="10" stroke="#000" stroke-width="0.18" textLength="27.9" lengthAdjust="spacingAndGlyphs">4229.0</text>
<rect x="1690" y="409" width="2" height="1" fill="#000"/>
<text x="1695" y="413" fill="#000" font-size="10" stroke="#000" stroke-width="0.18" textLength="27.9" lengthAdjust="spacingAndGlyphs">4159.0</text>
<rect x="1690" y="442" width="2" height="1" fill="#000"/>
<text x="1695" y="446" fill="#000" font-size="10" stroke="#000" stroke-width="0.18" textLength="27.9" lengthAdjust="spacingAndGlyphs">4091.0</text>
<rect x="1690" y="475" width="2" height="1" fill="#000"/>
<text x="1695" y="479" fill="#000" font-size="10" stroke="#000" stroke-width="0.18" textLength="27.9" lengthAdjust="spacingAndGlyphs">4021.0</text>
<rect x="1690" y="508" width="2" height="1" fill="#000"/>
<text x="1695" y="512" fill="#000" font-size="10" stroke="#000" stroke-width="0.18" textLength="27.9" lengthAdjust="spacingAndGlyphs">3951.0</text>
<rect x="1690" y="541" width="2" height="1" fill="#000"/>
<text x="1695" y="545" fill="#000" font-size="10" stroke="#000" stroke-width="0.18" textLength="27.9" lengthAdjust="spacingAndGlyphs">3883.0</text>
<rect x="1690" y="574" width="2" height="1" fill="#000"/>
<text x="1695" y="578" fill="#000" font-size="10" stroke="#000" stroke-width="0.18" textLength="27.9" lengthAdjust="spacingAndGlyphs">3813.0</text>
<rect x="1690" y="607" width="2" height="1" fill="#000"/>
<text x="1695" y="611" fill="#000" font-size="10" stroke="#000" stroke-width="0.18" textLength="27.9" lengthAdjust="spacingAndGlyphs">3745.0</text>
<rect x="1691" y="98" width="33" height="11" fill="#ff0000"/>
<text x="1695" y="107" fill="#fff" font-size="10" stroke="#fff" stroke-width="0.18" textLength="27.9" lengthAdjust="spacingAndGlyphs">4800.0</text>
<rect x="1691" y="181" width="33" height="11" fill="#32cd32"/>
<text x="1695" y="190" fill="#fff" font-size="10" stroke="#fff" stroke-width="0.18" textLength="27.9" lengthAdjust="spacingAndGlyphs">4625.0</text>
<rect x="1691" y="198" width="33" height="11" fill="#000000"/>
<text x="1695" y="207" fill="#fff" font-size="10" stroke="#fff" stroke-width="0.18" textLength="27.9" lengthAdjust="spacingAndGlyphs">4591.6</text>
<rect x="1691" y="248" width="33" height="11" fill="#4169e1"/>
<text x="1695" y="257" fill="#fff" font-size="10" stroke="#fff" stroke-width="0.18" textLength="27.9" lengthAdjust="spacingAndGlyphs">4485.0</text>
<rect x="1691" y="324" width="33" height="11" fill="#4169e1"/>
<text x="1695" y="333" fill="#fff" font-size="10" stroke="#fff" stroke-width="0.18" textLength="27.9" lengthAdjust="spacingAndGlyphs">4325.0</text>
<g clip-path="url(#cmacd)">
<rect x="4" y="713" width="1" height="3" fill="#c0c0c0"/>
<rect x="20" y="715" width="1" height="4" fill="#c0c0c0"/>
<rect x="28" y="715" width="1" height="7" fill="#c0c0c0"/>
<rect x="36" y="715" width="1" height="9" fill="#c0c0c0"/>
<rect x="44" y="715" width="1" height="9" fill="#c0c0c0"/>
<rect x="52" y="715" width="1" height="9" fill="#c0c0c0"/>
<rect x="60" y="715" width="1" height="9" fill="#c0c0c0"/>
<rect x="68" y="715" width="1" height="9" fill="#c0c0c0"/>
<rect x="76" y="715" width="1" height="11" fill="#c0c0c0"/>
<rect x="84" y="715" width="1" height="9" fill="#c0c0c0"/>
<rect x="92" y="715" width="1" height="9" fill="#c0c0c0"/>
<rect x="100" y="715" width="1" height="9" fill="#c0c0c0"/>
<rect x="108" y="715" width="1" height="4" fill="#c0c0c0"/>
<rect x="124" y="713" width="1" height="3" fill="#c0c0c0"/>
<rect x="132" y="710" width="1" height="6" fill="#c0c0c0"/>
<rect x="140" y="708" width="1" height="8" fill="#c0c0c0"/>
<rect x="148" y="707" width="1" height="9" fill="#c0c0c0"/>
<rect x="156" y="705" width="1" height="11" fill="#c0c0c0"/>
<rect x="164" y="704" width="1" height="12" fill="#c0c0c0"/>
<rect x="172" y="704" width="1" height="12" fill="#c0c0c0"/>
<rect x="180" y="703" width="1" height="13" fill="#c0c0c0"/>
<rect x="188" y="701" width="1" height="15" fill="#c0c0c0"/>
<rect x="196" y="701" width="1" height="15" fill="#c0c0c0"/>
<rect x="204" y="699" width="1" height="17" fill="#c0c0c0"/>
<rect x="212" y="698" width="1" height="18" fill="#c0c0c0"/>
<rect x="220" y="698" width="1" height="18" fill="#c0c0c0"/>
<rect x="228" y="698" width="1" height="18" fill="#c0c0c0"/>
<rect x="236" y="698" width="1" height="18" fill="#c0c0c0"/>
<rect x="244" y="699" width="1" height="17" fill="#c0c0c0"/>
<rect x="252" y="702" width="1" height="14" fill="#c0c0c0"/>
<rect x="260" y="703" width="1" height="13" fill="#c0c0c0"/>
<rect x="268" y="704" width="1" height="12" fill="#c0c0c0"/>
<rect x="276" y="707" width="1" height="9" fill="#c0c0c0"/>
<rect x="284" y="707" width="1" height="9" fill="#c0c0c0"/>
<rect x="292" y="707" width="1" height="9" fill="#c0c0c0"/>
<rect x="300" y="707" width="1" height="9" fill="#c0c0c0"/>
<rect x="308" y="707" width="1" height="9" fill="#c0c0c0"/>
<rect x="316" y="708" width="1" height="8" fill="#c0c0c0"/>
<rect x="324" y="708" width="1" height="8" fill="#c0c0c0"/>
<rect x="332" y="707" width="1" height="9" fill="#c0c0c0"/>
<rect x="340" y="706" width="1" height="10" fill="#c0c0c0"/>
<rect x="348" y="704" width="1" height="12" fill="#c0c0c0"/>
<rect x="356" y="703" width="1" height="13" fill="#c0c0c0"/>
<rect x="364" y="702" width="1" height="14" fill="#c0c0c0"/>
<rect x="372" y="701" width="1" height="15" fill="#c0c0c0"/>
<rect x="380" y="700" width="1" height="16" fill="#c0c0c0"/>
<rect x="388" y="699" width="1" height="17" fill="#c0c0c0"/>
<rect x="396" y="700" width="1" height="16" fill="#c0c0c0"/>
<rect x="404" y="700" width="1" height="16" fill="#c0c0c0"/>
<rect x="412" y="699" width="1" height="17" fill="#c0c0c0"/>
<rect x="420" y="698" width="1" height="18" fill="#c0c0c0"/>
<rect x="428" y="696" width="1" height="20" fill="#c0c0c0"/>
<rect x="436" y="692" width="1" height="24" fill="#c0c0c0"/>
<rect x="444" y="688" width="1" height="28" fill="#c0c0c0"/>
<rect x="452" y="683" width="1" height="33" fill="#c0c0c0"/>
<rect x="460" y="679" width="1" height="37" fill="#c0c0c0"/>
<rect x="468" y="673" width="1" height="43" fill="#c0c0c0"/>
<rect x="476" y="662" width="1" height="54" fill="#c0c0c0"/>
<rect x="484" y="649" width="1" height="67" fill="#c0c0c0"/>
<rect x="492" y="639" width="1" height="77" fill="#c0c0c0"/>
<rect x="500" y="633" width="1" height="83" fill="#c0c0c0"/>
<rect x="508" y="630" width="1" height="86" fill="#c0c0c0"/>
<rect x="516" y="627" width="1" height="89" fill="#c0c0c0"/>
<rect x="524" y="623" width="1" height="93" fill="#c0c0c0"/>
<rect x="532" y="620" width="1" height="96" fill="#c0c0c0"/>
<rect x="540" y="621" width="1" height="95" fill="#c0c0c0"/>
<rect x="548" y="625" width="1" height="91" fill="#c0c0c0"/>
<rect x="556" y="627" width="1" height="89" fill="#c0c0c0"/>
<rect x="564" y="627" width="1" height="89" fill="#c0c0c0"/>
<rect x="572" y="631" width="1" height="85" fill="#c0c0c0"/>
<rect x="580" y="635" width="1" height="81" fill="#c0c0c0"/>
<rect x="588" y="640" width="1" height="76" fill="#c0c0c0"/>
<rect x="596" y="645" width="1" height="71" fill="#c0c0c0"/>
<rect x="604" y="654" width="1" height="62" fill="#c0c0c0"/>
<rect x="612" y="667" width="1" height="49" fill="#c0c0c0"/>
<rect x="620" y="678" width="1" height="38" fill="#c0c0c0"/>
<rect x="628" y="686" width="1" height="30" fill="#c0c0c0"/>
<rect x="636" y="688" width="1" height="28" fill="#c0c0c0"/>
<rect x="644" y="690" width="1" height="26" fill="#c0c0c0"/>
<rect x="652" y="691" width="1" height="25" fill="#c0c0c0"/>
<rect x="660" y="693" width="1" height="23" fill="#c0c0c0"/>
<rect x="668" y="691" width="1" height="25" fill="#c0c0c0"/>
<rect x="676" y="692" width="1" height="24" fill="#c0c0c0"/>
<rect x="684" y="694" width="1" height="22" fill="#c0c0c0"/>
<rect x="692" y="695" width="1" height="21" fill="#c0c0c0"/>
<rect x="700" y="701" width="1" height="15" fill="#c0c0c0"/>
<rect x="708" y="709" width="1" height="7" fill="#c0c0c0"/>
<rect x="716" y="714" width="1" height="2" fill="#c0c0c0"/>
<rect x="724" y="715" width="1" height="2" fill="#c0c0c0"/>
<rect x="732" y="715" width="1" height="4" fill="#c0c0c0"/>
<rect x="740" y="715" width="1" height="6" fill="#c0c0c0"/>
<rect x="748" y="715" width="1" height="3" fill="#c0c0c0"/>
<rect x="764" y="713" width="1" height="3" fill="#c0c0c0"/>
<rect x="772" y="712" width="1" height="4" fill="#c0c0c0"/>
<rect x="780" y="711" width="1" height="5" fill="#c0c0c0"/>
<rect x="788" y="709" width="1" height="7" fill="#c0c0c0"/>
<rect x="796" y="706" width="1" height="10" fill="#c0c0c0"/>
<rect x="804" y="703" width="1" height="13" fill="#c0c0c0"/>
<rect x="812" y="700" width="1" height="16" fill="#c0c0c0"/>
<rect x="820" y="698" width="1" height="18" fill="#c0c0c0"/>
<rect x="828" y="696" width="1" height="20" fill="#c0c0c0"/>
<rect x="836" y="696" width="1" height="20" fill="#c0c0c0"/>
<rect x="844" y="697" width="1" height="19" fill="#c0c0c0"/>
<rect x="852" y="699" width="1" height="17" fill="#c0c0c0"/>
<rect x="860" y="702" width="1" height="14" fill="#c0c0c0"/>
<rect x="868" y="703" width="1" height="13" fill="#c0c0c0"/>
<rect x="876" y="705" width="1" height="11" fill="#c0c0c0"/>
<rect x="884" y="705" width="1" height="11" fill="#c0c0c0"/>
<rect x="892" y="704" width="1" height="12" fill="#c0c0c0"/>
<rect x="900" y="707" width="1" height="9" fill="#c0c0c0"/>
<rect x="908" y="713" width="1" height="3" fill="#c0c0c0"/>
<rect x="916" y="715" width="1" height="1" fill="#c0c0c0"/>
<rect x="924" y="715" width="1" height="1" fill="#c0c0c0"/>
<rect x="932" y="715" width="1" height="3" fill="#c0c0c0"/>
<rect x="940" y="715" width="1" height="3" fill="#c0c0c0"/>
<rect x="956" y="710" width="1" height="6" fill="#c0c0c0"/>
<rect x="964" y="706" width="1" height="10" fill="#c0c0c0"/>
<rect x="972" y="702" width="1" height="14" fill="#c0c0c0"/>
<rect x="980" y="700" width="1" height="16" fill="#c0c0c0"/>
<rect x="988" y="699" width="1" height="17" fill="#c0c0c0"/>
<rect x="996" y="701" width="1" height="15" fill="#c0c0c0"/>
<rect x="1004" y="706" width="1" height="10" fill="#c0c0c0"/>
<rect x="1012" y="709" width="1" height="7" fill="#c0c0c0"/>
<rect x="1020" y="709" width="1" height="7" fill="#c0c0c0"/>
<rect x="1028" y="711" width="1" height="5" fill="#c0c0c0"/>
<rect x="1036" y="710" width="1" height="6" fill="#c0c0c0"/>
<rect x="1044" y="711" width="1" height="5" fill="#c0c0c0"/>
<rect x="1052" y="711" width="1" height="5" fill="#c0c0c0"/>
<rect x="1060" y="710" width="1" height="6" fill="#c0c0c0"/>
<rect x="1068" y="712" width="1" height="4" fill="#c0c0c0"/>
<rect x="1076" y="714" width="1" height="2" fill="#c0c0c0"/>
<rect x="1084" y="715" width="1" height="1" fill="#c0c0c0"/>
<rect x="1092" y="714" width="1" height="2" fill="#c0c0c0"/>
<rect x="1100" y="713" width="1" height="3" fill="#c0c0c0"/>
<rect x="1108" y="708" width="1" height="8" fill="#c0c0c0"/>
<rect x="1116" y="704" width="1" height="12" fill="#c0c0c0"/>
<rect x="1124" y="704" width="1" height="12" fill="#c0c0c0"/>
<rect x="1132" y="703" width="1" height="13" fill="#c0c0c0"/>
<rect x="1140" y="702" width="1" height="14" fill="#c0c0c0"/>
<rect x="1148" y="701" width="1" height="15" fill="#c0c0c0"/>
<rect x="1156" y="701" width="1" height="15" fill="#c0c0c0"/>
<rect x="1164" y="703" width="1" height="13" fill="#c0c0c0"/>
<rect x="1172" y="703" width="1" height="13" fill="#c0c0c0"/>
<rect x="1180" y="706" width="1" height="10" fill="#c0c0c0"/>
<rect x="1188" y="708" width="1" height="8" fill="#c0c0c0"/>
<rect x="1196" y="710" width="1" height="6" fill="#c0c0c0"/>
<rect x="1212" y="715" width="1" height="3" fill="#c0c0c0"/>
<rect x="1220" y="715" width="1" height="5" fill="#c0c0c0"/>
<rect x="1228" y="715" width="1" height="9" fill="#c0c0c0"/>
<rect x="1236" y="715" width="1" height="13" fill="#c0c0c0"/>
<rect x="1244" y="715" width="1" height="15" fill="#c0c0c0"/>
<rect x="1252" y="715" width="1" height="18" fill="#c0c0c0"/>
<rect x="1260" y="715" width="1" height="20" fill="#c0c0c0"/>
<rect x="1268" y="715" width="1" height="20" fill="#c0c0c0"/>
<rect x="1276" y="715" width="1" height="18" fill="#c0c0c0"/>
<rect x="1284" y="715" width="1" height="16" fill="#c0c0c0"/>
<rect x="1292" y="715" width="1" height="15" fill="#c0c0c0"/>
<rect x="1300" y="715" width="1" height="12" fill="#c0c0c0"/>
<rect x="1308" y="715" width="1" height="12" fill="#c0c0c0"/>
<rect x="1316" y="715" width="1" height="13" fill="#c0c0c0"/>
<rect x="1324" y="715" width="1" height="15" fill="#c0c0c0"/>
<rect x="1332" y="715" width="1" height="15" fill="#c0c0c0"/>
<polyline points="4.5,709.5 12.5,710.5 20.5,711.5 28.5,713.5 36.5,715.5 44.5,716.5 52.5,718.5 60.5,720.5 68.5,721.5 76.5,723.5 84.5,724.5 92.5,724.5 100.5,725.5 108.5,724.5 116.5,723.5 124.5,722.5 132.5,720.5 140.5,717.5 148.5,716.5 156.5,713.5 164.5,711.5 172.5,708.5 180.5,706.5 188.5,705.5 196.5,703.5 204.5,702.5 212.5,701.5 220.5,700.5 228.5,699.5 236.5,699.5 244.5,699.5 252.5,699.5 260.5,700.5 268.5,700.5 276.5,700.5 284.5,701.5 292.5,702.5 300.5,703.5 308.5,704.5 316.5,704.5 324.5,705.5 332.5,706.5 340.5,705.5 348.5,705.5 356.5,705.5 364.5,704.5 372.5,704.5 380.5,703.5 388.5,702.5 396.5,701.5 404.5,701.5 412.5,700.5 420.5,699.5 428.5,698.5 436.5,697.5 444.5,696.5 452.5,694.5 460.5,692.5 468.5,689.5 476.5,684.5 484.5,679.5 492.5,672.5 500.5,665.5 508.5,659.5 516.5,653.5 524.5,646.5 532.5,639.5 540.5,633.5 548.5,629.5 556.5,627.5 564.5,625.5 572.5,624.5 580.5,625.5 588.5,626.5 596.5,629.5 604.5,633.5 612.5,638.5 620.5,643.5 628.5,650.5 636.5,656.5 644.5,664.5 652.5,670.5 660.5,675.5 668.5,680.5 676.5,685.5 684.5,687.5 692.5,689.5 700.5,691.5 708.5,694.5 716.5,697.5 724.5,700.5 732.5,702.5 740.5,705.5 748.5,708.5 756.5,711.5 764.5,713.5 772.5,715.5 780.5,715.5 788.5,714.5 796.5,713.5 804.5,711.5 812.5,709.5 820.5,707.5 828.5,703.5 836.5,702.5 844.5,701.5 852.5,699.5 860.5,698.5 868.5,698.5 876.5,698.5 884.5,699.5 892.5,700.5 900.5,701.5 908.5,703.5 916.5,705.5 924.5,707.5 932.5,709.5 940.5,710.5 948.5,711.5 956.5,712.5 964.5,712.5 972.5,712.5 980.5,711.5 988.5,709.5 996.5,707.5 1004.5,705.5 1012.5,704.5 1020.5,704.5 1028.5,704.5 1036.5,704.5 1044.5,705.5 1052.5,706.5 1060.5,707.5 1068.5,708.5 1076.5,710.5 1084.5,710.5 1092.5,711.5 1100.5,711.5 1108.5,711.5 1116.5,710.5 1124.5,709.5 1132.5,709.5 1140.5,707.5 1148.5,706.5 1156.5,705.5 1164.5,703.5 1172.5,702.5 1180.5,702.5 1188.5,702.5 1196.5,703.5 1204.5,704.5 1212.5,706.5 1220.5,708.5 1228.5,710.5 1236.5,714.5 1244.5,716.5 1252.5,719.5 1260.5,723.5 1268.5,726.5 1276.5,728.5 1284.5,730.5 1292.5,731.5 1300.5,731.5 1308.5,730.5 1316.5,730.5 1324.5,730.5 1332.5,730.5" fill="none" stroke="#ff0000" stroke-width="1" stroke-dasharray="3,3"/>
</g>
<text x="8" y="625" fill="#000" font-size="10" stroke="#000" stroke-width="0.18" textLength="124.3" lengthAdjust="spacingAndGlyphs">MACD(12,26,9) -30.90 -31.37</text>
<rect x="1690" y="614" width="1" height="1" fill="#000"/>
<rect x="1690" y="715" width="1" height="1" fill="#000"/>
<rect x="1690" y="740" width="1" height="1" fill="#000"/>
<text x="1692.6" y="623" fill="#000" font-size="10" stroke="#000" stroke-width="0.18" textLength="29.1" lengthAdjust="spacingAndGlyphs">216.78</text>
<text x="1692.8" y="719" fill="#000" font-size="10" stroke="#000" stroke-width="0.18" textLength="18.7" lengthAdjust="spacingAndGlyphs">0.00</text>
<text x="1692.8" y="738" fill="#000" font-size="10" stroke="#000" stroke-width="0.18" textLength="26.7" lengthAdjust="spacingAndGlyphs">-53.53</text>
<g clip-path="url(#crsi)">
<line x1="5" y1="783.5" x2="1689" y2="783.5" stroke="#c0c0c0" stroke-width="1" stroke-dasharray="3,3"/>
<line x1="5" y1="833.5" x2="1689" y2="833.5" stroke="#c0c0c0" stroke-width="1" stroke-dasharray="3,3"/>
<polyline points="4.5,812.5 12.5,822.5 20.5,829.5 28.5,829.5 36.5,826.5 44.5,817.5 52.5,816.5 60.5,819.5 68.5,819.5 76.5,824.5 84.5,816.5 92.5,815.5 100.5,814.5 108.5,790.5 116.5,790.5 124.5,789.5 132.5,787.5 140.5,784.5 148.5,791.5 156.5,791.5 164.5,791.5 172.5,794.5 180.5,786.5 188.5,785.5 196.5,785.5 204.5,780.5 212.5,783.5 220.5,786.5 228.5,785.5 236.5,785.5 244.5,802.5 252.5,802.5 260.5,797.5 268.5,800.5 276.5,814.5 284.5,800.5 292.5,797.5 300.5,800.5 308.5,797.5 316.5,804.5 324.5,801.5 332.5,796.5 340.5,791.5 348.5,787.5 356.5,793.5 364.5,789.5 372.5,789.5 380.5,787.5 388.5,783.5 396.5,798.5 404.5,795.5 412.5,787.5 420.5,788.5 428.5,781.5 436.5,777.5 444.5,773.5 452.5,769.5 460.5,767.5 468.5,763.5 476.5,756.5 484.5,755.5 492.5,755.5 500.5,764.5 508.5,764.5 516.5,762.5 524.5,761.5 532.5,760.5 540.5,768.5 548.5,776.5 556.5,772.5 564.5,772.5 572.5,781.5 580.5,780.5 588.5,786.5 596.5,789.5 604.5,800.5 612.5,815.5 620.5,816.5 628.5,812.5 636.5,802.5 644.5,801.5 652.5,800.5 660.5,800.5 668.5,793.5 676.5,800.5 684.5,803.5 692.5,800.5 700.5,815.5 708.5,820.5 716.5,817.5 724.5,817.5 732.5,814.5 740.5,813.5 748.5,803.5 756.5,799.5 764.5,801.5 772.5,803.5 780.5,803.5 788.5,801.5 796.5,795.5 804.5,793.5 812.5,792.5 820.5,792.5 828.5,790.5 836.5,795.5 844.5,801.5 852.5,798.5 860.5,811.5 868.5,805.5 876.5,806.5 884.5,803.5 892.5,799.5 900.5,810.5 908.5,821.5 916.5,811.5 924.5,813.5 932.5,813.5 940.5,811.5 948.5,801.5 956.5,792.5 964.5,793.5 972.5,793.5 980.5,795.5 988.5,798.5 996.5,805.5 1004.5,814.5 1012.5,812.5 1020.5,806.5 1028.5,808.5 1036.5,804.5 1044.5,807.5 1052.5,804.5 1060.5,804.5 1068.5,811.5 1076.5,812.5 1084.5,808.5 1092.5,807.5 1100.5,799.5 1108.5,791.5 1116.5,789.5 1124.5,801.5 1132.5,799.5 1140.5,796.5 1148.5,799.5 1156.5,799.5 1164.5,800.5 1172.5,801.5 1180.5,813.5 1188.5,809.5 1196.5,811.5 1204.5,823.5 1212.5,823.5 1220.5,816.5 1228.5,824.5 1236.5,827.5 1244.5,821.5 1252.5,825.5 1260.5,825.5 1268.5,818.5 1276.5,814.5 1284.5,813.5 1292.5,810.5 1300.5,808.5 1308.5,815.5 1316.5,817.5 1324.5,823.5 1332.5,819.5" fill="none" stroke="#1e90ff" stroke-width="1"/>
</g>
<text x="8" y="756" fill="#000" font-size="10" stroke="#000" stroke-width="0.18" textLength="68.3" lengthAdjust="spacingAndGlyphs">RSI(14) 41.8413</text>
<rect x="1690" y="745" width="1" height="1" fill="#000"/>
<text x="1693" y="754" fill="#000" font-size="10" stroke="#000" stroke-width="0.18" textLength="15" lengthAdjust="spacingAndGlyphs">100</text>
<text x="1692" y="787" fill="#000" font-size="10" stroke="#000" stroke-width="0.18" textLength="10.5" lengthAdjust="spacingAndGlyphs">70</text>
<text x="1691.7" y="837" fill="#000" font-size="10" stroke="#000" stroke-width="0.18" textLength="10.8" lengthAdjust="spacingAndGlyphs">30</text>
<text x="1692.8" y="869" fill="#000" font-size="10" stroke="#000" stroke-width="0.18" textLength="5.8" lengthAdjust="spacingAndGlyphs">0</text>
<rect x="4" y="873" width="1" height="3" fill="#000"/>
<text x="2.8" y="885" fill="#000" font-size="10" stroke="#000" stroke-width="0.18" textLength="56.00" lengthAdjust="spacingAndGlyphs">21 May 2020</text>
<rect x="68" y="873" width="1" height="3" fill="#000"/>
<text x="66.8" y="885" fill="#000" font-size="10" stroke="#000" stroke-width="0.18" textLength="58.50" lengthAdjust="spacingAndGlyphs">27 May 05:00</text>
<rect x="132" y="873" width="1" height="3" fill="#000"/>
<text x="130.8" y="885" fill="#000" font-size="10" stroke="#000" stroke-width="0.18" textLength="48.75" lengthAdjust="spacingAndGlyphs">2 Jun 05:00</text>
<rect x="196" y="873" width="1" height="3" fill="#000"/>
<text x="194.8" y="885" fill="#000" font-size="10" stroke="#000" stroke-width="0.18" textLength="48.50" lengthAdjust="spacingAndGlyphs">8 Jun 05:00</text>
<rect x="260" y="873" width="1" height="3" fill="#000"/>
<text x="258.8" y="885" fill="#000" font-size="10" stroke="#000" stroke-width="0.18" textLength="53.25" lengthAdjust="spacingAndGlyphs">12 Jun 05:00</text>
<rect x="324" y="873" width="1" height="3" fill="#000"/>
<text x="322.8" y="885" fill="#000" font-size="10" stroke="#000" stroke-width="0.18" textLength="53.50" lengthAdjust="spacingAndGlyphs">18 Jun 05:00</text>
<rect x="388" y="873" width="1" height="3" fill="#000"/>
<text x="386.8" y="885" fill="#000" font-size="10" stroke="#000" stroke-width="0.18" textLength="53.50" lengthAdjust="spacingAndGlyphs">24 Jun 05:00</text>
<rect x="452" y="873" width="1" height="3" fill="#000"/>
<text x="450.8" y="885" fill="#000" font-size="10" stroke="#000" stroke-width="0.18" textLength="45.50" lengthAdjust="spacingAndGlyphs">2 Jul 05:00</text>
<rect x="516" y="873" width="1" height="3" fill="#000"/>
<text x="514.8" y="885" fill="#000" font-size="10" stroke="#000" stroke-width="0.18" textLength="46.00" lengthAdjust="spacingAndGlyphs">8 Jul 05:00</text>
<rect x="580" y="873" width="1" height="3" fill="#000"/>
<text x="578.8" y="885" fill="#000" font-size="10" stroke="#000" stroke-width="0.18" textLength="50.50" lengthAdjust="spacingAndGlyphs">14 Jul 05:00</text>
<rect x="644" y="873" width="1" height="3" fill="#000"/>
<text x="642.8" y="885" fill="#000" font-size="10" stroke="#000" stroke-width="0.18" textLength="50.25" lengthAdjust="spacingAndGlyphs">20 Jul 05:00</text>
<rect x="708" y="873" width="1" height="3" fill="#000"/>
<text x="706.8" y="885" fill="#000" font-size="10" stroke="#000" stroke-width="0.18" textLength="50.25" lengthAdjust="spacingAndGlyphs">24 Jul 05:00</text>
<rect x="772" y="873" width="1" height="3" fill="#000"/>
<text x="770.8" y="885" fill="#000" font-size="10" stroke="#000" stroke-width="0.18" textLength="50.50" lengthAdjust="spacingAndGlyphs">30 Jul 05:00</text>
<rect x="836" y="873" width="1" height="3" fill="#000"/>
<text x="834.8" y="885" fill="#000" font-size="10" stroke="#000" stroke-width="0.18" textLength="51.75" lengthAdjust="spacingAndGlyphs">5 Aug 05:00</text>
<rect x="900" y="873" width="1" height="3" fill="#000"/>
<text x="898.8" y="885" fill="#000" font-size="10" stroke="#000" stroke-width="0.18" textLength="56.75" lengthAdjust="spacingAndGlyphs">11 Aug 05:00</text>
<rect x="964" y="873" width="1" height="3" fill="#000"/>
<text x="962.8" y="885" fill="#000" font-size="10" stroke="#000" stroke-width="0.18" textLength="56.00" lengthAdjust="spacingAndGlyphs">17 Aug 05:00</text>
<rect x="1028" y="873" width="1" height="3" fill="#000"/>
<text x="1026.8" y="885" fill="#000" font-size="10" stroke="#000" stroke-width="0.18" textLength="56.00" lengthAdjust="spacingAndGlyphs">21 Aug 05:00</text>
<rect x="1092" y="873" width="1" height="3" fill="#000"/>
<text x="1090.8" y="885" fill="#000" font-size="10" stroke="#000" stroke-width="0.18" textLength="56.25" lengthAdjust="spacingAndGlyphs">27 Aug 05:00</text>
<rect x="1156" y="873" width="1" height="3" fill="#000"/>
<text x="1154.8" y="885" fill="#000" font-size="10" stroke="#000" stroke-width="0.18" textLength="50.50" lengthAdjust="spacingAndGlyphs">2 Sep 05:00</text>
<rect x="1220" y="873" width="1" height="3" fill="#000"/>
<text x="1218.8" y="885" fill="#000" font-size="10" stroke="#000" stroke-width="0.18" textLength="50.25" lengthAdjust="spacingAndGlyphs">8 Sep 05:00</text>
<rect x="1284" y="873" width="1" height="3" fill="#000"/>
<text x="1282.8" y="885" fill="#000" font-size="10" stroke="#000" stroke-width="0.18" textLength="55.25" lengthAdjust="spacingAndGlyphs">14 Sep 05:00</text>
</svg></body></html>
